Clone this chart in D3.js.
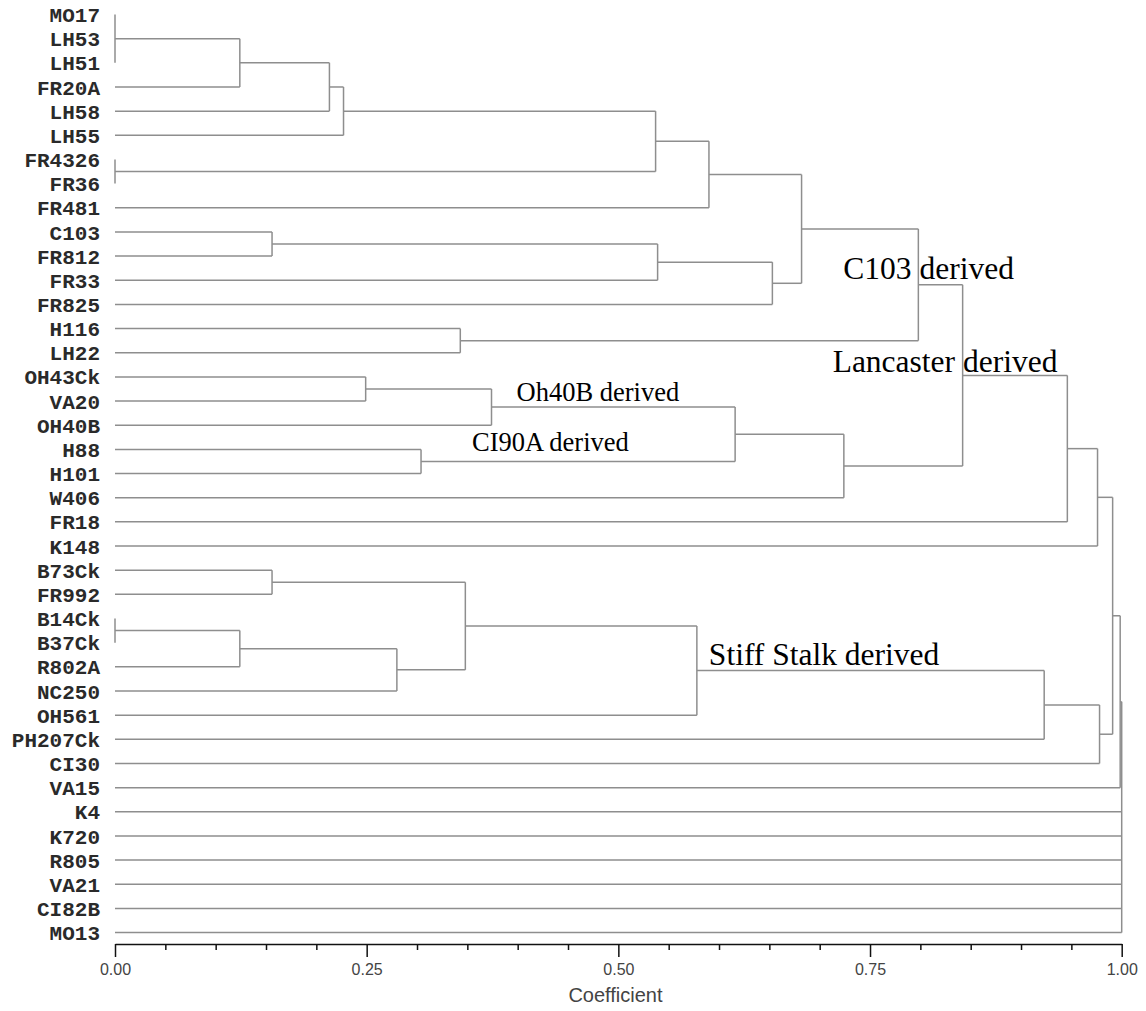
<!DOCTYPE html>
<html>
<head>
<meta charset="utf-8">
<script src="https://cdn.jsdelivr.net/npm/d3@7"></script>
<style>
  html, body { margin: 0; padding: 0; background: #fff; }
  svg { display: block; }
</style>
</head>
<body>
<svg id="chart" width="1146" height="1011"></svg>
<script>
// ---- DATA ----
const leaves = ["MO17","LH53","LH51","FR20A","LH58","LH55","FR4326","FR36","FR481","C103","FR812","FR33","FR825","H116","LH22","OH43Ck","VA20","OH40B","H88","H101","W406","FR18","K148","B73Ck","FR992","B14Ck","B37Ck","R802A","NC250","OH561","PH207Ck","CI30","VA15","K4","K720","R805","VA21","CI82B","MO13"];

const mergeIds = ["n1","n2","n3","n4","n5","n6","n7","n8","n9","n10","n11","n12","n13","n14","n15","n16","n17","n18","n19","n20","n21","n22","n23","n24","n25","n26","n27","n28","n29","n30","n31","n32"];
const mergeChildren = [
  ["MO17","LH53","LH51"],
  ["n1","FR20A"],
  ["n2","LH58"],
  ["n3","LH55"],
  ["FR4326","FR36"],
  ["n4","n5"],
  ["n6","FR481"],
  ["C103","FR812"],
  ["n8","FR33"],
  ["n9","FR825"],
  ["n7","n10"],
  ["H116","LH22"],
  ["n11","n12"],
  ["OH43Ck","VA20"],
  ["n14","OH40B"],
  ["H88","H101"],
  ["n15","n16"],
  ["n17","W406"],
  ["n13","n18"],
  ["n19","FR18"],
  ["n20","K148"],
  ["B73Ck","FR992"],
  ["B14Ck","B37Ck"],
  ["n23","R802A"],
  ["n24","NC250"],
  ["n22","n25"],
  ["n26","OH561"],
  ["n27","PH207Ck"],
  ["n28","CI30"],
  ["n21","n29"],
  ["n30","VA15"],
  ["n31","K4","K720","R805","VA21","CI82B","MO13"]
];
const mergeHeights = [0, 0.124, 0.213, 0.227, 0, 0.537, 0.590, 0.156, 0.539, 0.653, 0.682, 0.343, 0.798, 0.249, 0.374, 0.304, 0.616, 0.724, 0.842, 0.946, 0.976, 0.156, 0, 0.124, 0.280, 0.348, 0.578, 0.923, 0.978, 0.991, 0.9985, 1.0];

const majorTicks = [0, 0.25, 0.5, 0.75, 1.0];
const minorTicks = [0.05,0.10,0.15,0.20,0.30,0.35,0.40,0.45,0.55,0.60,0.65,0.70,0.80,0.85,0.90,0.95];
const axisTitle = "Coefficient";

const annotLabels = ["C103 derived","Lancaster derived","Oh40B derived","CI90A derived","Stiff Stalk derived"];
const annotAnchorNode = ["n13","n19","n15","n16","n27"];

// ---- BUILD HIERARCHY ----
const rows = [];
leaves.forEach(l => rows.push({id: l, height: 0}));
mergeIds.forEach((id, i) => rows.push({id, height: mergeHeights[i]}));
const parentOf = {};
mergeIds.forEach((id, i) => mergeChildren[i].forEach(c => parentOf[c] = id));
rows.forEach(r => r.parent = parentOf[r.id] || null);
const childOrder = {};
mergeChildren.forEach(ch => ch.forEach((c, j) => childOrder[c] = j));

const root = d3.stratify().id(d => d.id).parentId(d => d.parent)(rows);
root.sort((a, b) => childOrder[a.id] - childOrder[b.id]);

// ---- SCALES ----
const x = d3.scaleLinear().domain([0, 1]).range([115, 1121.7]);
const y = d3.scalePoint().domain(leaves).range([14.5, 932.6]);

root.eachAfter(n => {
  if (!n.children) { n.py = y(n.id); }
  else {
    const ys = n.children.map(c => c.py);
    n.py = (d3.min(ys) + d3.max(ys)) / 2;
  }
  n.px = x(n.data.height);
});

const svg = d3.select("#chart");
const g = svg.append("g");
const lineColor = "#8e8e8e";

// links
const internal = root.descendants().filter(n => n.children);
internal.forEach(n => {
  const ys = n.children.map(c => c.py);
  g.append("line")
    .attr("x1", n.px).attr("x2", n.px)
    .attr("y1", d3.min(ys)).attr("y2", d3.max(ys))
    .attr("stroke", lineColor).attr("stroke-width", 1.5);
  n.children.forEach(c => {
    g.append("line")
      .attr("x1", c.px).attr("x2", n.px)
      .attr("y1", c.py).attr("y2", c.py)
      .attr("stroke", lineColor).attr("stroke-width", 1.5);
  });
});

// leaf labels
svg.append("g").selectAll("text")
  .data(leaves)
  .join("text")
  .attr("x", 100)
  .attr("y", d => y(d))
  .attr("dy", "0.36em")
  .attr("text-anchor", "end")
  .attr("font-family", "'Liberation Mono', 'Courier New', monospace")
  .attr("font-weight", "bold")
  .attr("font-size", 21)
  .attr("fill", "#2a2a2a")
  .text(d => d);

// axis
const axisY = 944;
const axisG = svg.append("g").attr("transform", `translate(0,${axisY})`);
axisG.call(d3.axisBottom(x).tickValues(majorTicks).tickSize(13).tickSizeOuter(0).tickPadding(7).tickFormat(d3.format(".2f")));
axisG.select(".domain").attr("stroke", "#111").attr("stroke-width", 1.5);
axisG.selectAll(".tick line").attr("stroke", "#111").attr("stroke-width", 1.5);
axisG.selectAll(".tick text")
  .attr("font-family", "'Liberation Sans', Arial, sans-serif")
  .attr("font-size", 16)
  .attr("fill", "#444");
const minorG = svg.append("g").attr("transform", `translate(0,${axisY})`);
minorG.call(d3.axisBottom(x).tickValues(minorTicks).tickSize(6).tickSizeOuter(0).tickFormat(""));
minorG.select(".domain").remove();
minorG.selectAll(".tick line").attr("stroke", "#111").attr("stroke-width", 1.5);

svg.append("text")
  .attr("x", 615.5).attr("y", 1001.5)
  .attr("text-anchor", "middle")
  .attr("font-family", "'Liberation Sans', Arial, sans-serif")
  .attr("font-size", 20)
  .attr("fill", "#444")
  .text(axisTitle);

// annotations (positioned relative to their node)
const nodeById = {};
root.descendants().forEach(n => nodeById[n.id] = n);
const annotOffsets = [[-75, -6], [-130, -3], [25, -6], [51, -10], [12, -6]];
const annotSizes = [31.5, 31.5, 26.5, 26.5, 31.5];
annotLabels.forEach((t, i) => {
  const n = nodeById[annotAnchorNode[i]];
  let ax, ay;
  if (i === 0) { ax = n.px + annotOffsets[i][0]; ay = nodeById["n13"].py + annotOffsets[i][1]; }
  else if (i === 1) { ax = x(0.842) + annotOffsets[i][0]; ay = nodeById["n19"].py + annotOffsets[i][1]; }
  else if (i === 2) { ax = n.px + annotOffsets[i][0]; ay = n.py + annotOffsets[i][1]; }
  else if (i === 3) { ax = n.px + annotOffsets[i][0]; ay = n.py + annotOffsets[i][1]; }
  else { ax = n.px + annotOffsets[i][0]; ay = n.py + annotOffsets[i][1]; }
  svg.append("text")
    .attr("x", ax).attr("y", ay)
    .attr("font-family", "'Liberation Serif', 'Times New Roman', serif")
    .attr("font-size", annotSizes[i])
    .attr("fill", "#000")
    .text(t);
});
</script>
</body>
</html>
